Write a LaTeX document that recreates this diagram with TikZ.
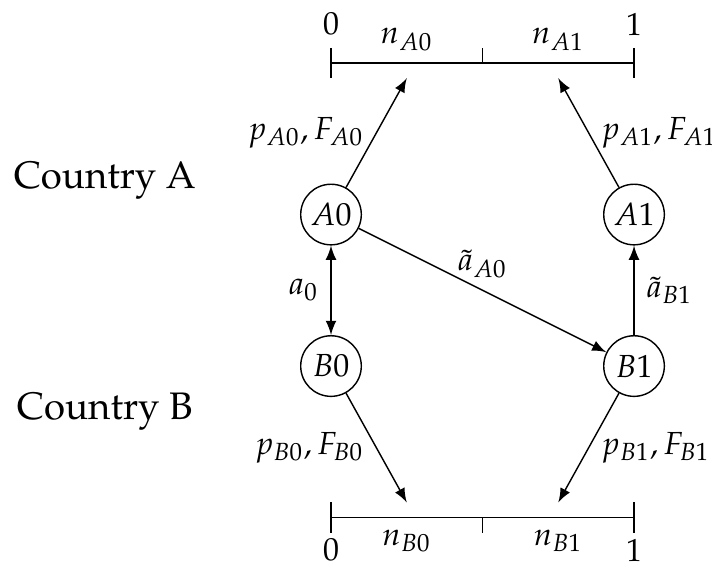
\documentclass[tikz,border=0pt]{standalone}
\usepackage[T1]{fontenc}
\usepackage{amsmath,amssymb}
\usepackage{mathpazo}
\usetikzlibrary{arrows.meta,positioning,calc}

\begin{document}
\begin{tikzpicture}[
  font=\fontsize{9}{11}\selectfont,
  firm/.style={circle,draw,minimum size=0.6cm,inner sep=1pt},
  country/.style={font=\fontsize{10.8}{13}\selectfont},
  flow/.style={-latex},
  tick/.style={line width=0.4pt}
]
\useasboundingbox (-3.277,-1.970) rectangle (3.772,3.624);

% countries
\node[country] (cA) at (-2.24,1.84) {Country A};
\node[country] (cB) at (-2.24,-0.45) {Country B};

% firms
\node[firm] (A0) at (0,1.5) {$A0$};
\node[firm] (A1) at (3,1.5) {$A1$};
\node[firm] (B0) at (0,0) {$B0$};
\node[firm] (B1) at (3,0) {$B1$};

% unit intervals
\coordinate (tl) at (0,3);
\coordinate (tm) at (1.5,3);
\coordinate (tr) at (3,3);
\coordinate (bl) at (0,-1.5);
\coordinate (bm) at (1.5,-1.5);
\coordinate (br) at (3,-1.5);

\draw (tl) -- (tr);
\draw[tick] ($(tl)+(0,0.15)$) -- ($(tl)-(0,0.15)$);
\draw[tick] ($(tr)+(0,0.15)$) -- ($(tr)-(0,0.15)$);
\draw[tick] (tm) -- ++(0,0.15);
\node[above] at ($(tl)+(0,0.15)$) {$0$};
\node[above] at ($(tr)+(0,0.15)$) {$1$};
\node[above] (nA0) at (0.75,3) {$n_{A0}$};
\node[above] (nA1) at (2.25,3) {$n_{A1}$};

\draw (bl) -- (br);
\draw[tick] ($(bl)+(0,0.15)$) -- ($(bl)-(0,0.15)$);
\draw[tick] ($(br)+(0,0.15)$) -- ($(br)-(0,0.15)$);
\draw[tick] (bm) -- ++(0,-0.15);
\node[below,inner sep=1.5pt] at ($(bl)-(0,0.15)$) {$0$};
\node[below,inner sep=1.5pt] at ($(br)-(0,0.15)$) {$1$};
\node[below] (nB0) at (0.75,-1.5) {$n_{B0}$};
\node[below] (nB1) at (2.25,-1.5) {$n_{B1}$};

% arrow ends
\coordinate (eA0) at (0.75,2.85);
\coordinate (eA1) at (2.25,2.85);
\coordinate (eB0) at (0.75,-1.35);
\coordinate (eB1) at (2.25,-1.35);

\draw[flow] (A0) -- node[midway,left] {$p_{A0},F_{A0}$} (eA0);
\draw[flow] (A1) -- node[midway,right] {$p_{A1},F_{A1}$} (eA1);
\draw[flow] (B0) -- node[midway,left] {$p_{B0},F_{B0}$} (eB0);
\draw[flow] (B1) -- node[midway,right] {$p_{B1},F_{B1}$} (eB1);

\draw[latex-latex] (A0) -- node[midway,left] {$a_0$} (B0);
\draw[flow] (A0) -- node[midway,above] {$\tilde{a}_{A0}$} (B1);
\draw[flow] (B1) -- node[midway,right] {$\tilde{a}_{B1}$} (A1);
\end{tikzpicture}
\end{document}
